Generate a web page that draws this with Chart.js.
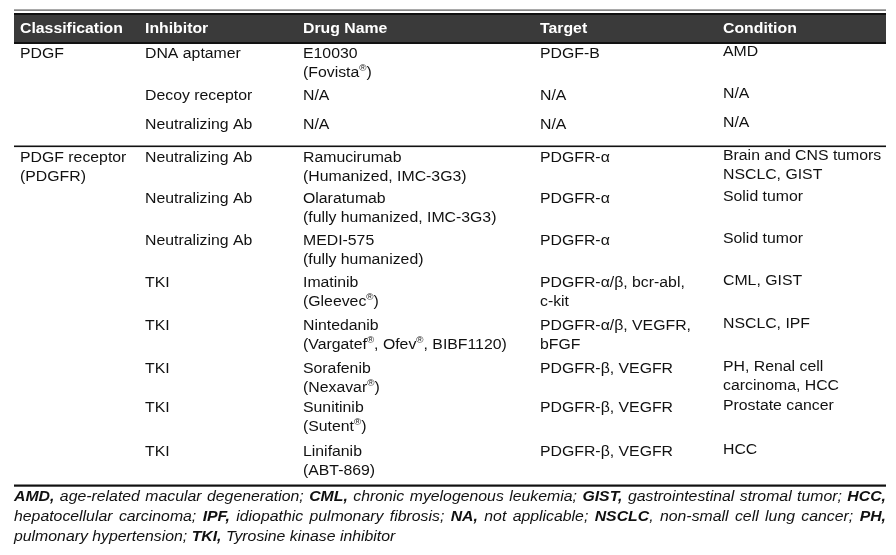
<!DOCTYPE html>
<html>
<head>
<meta charset="utf-8">
<script src="https://cdn.jsdelivr.net/npm/chart.js@4.4.0/dist/chart.umd.min.js"></script>
<style>
  html, body { margin: 0; padding: 0; background: #fff; }
  #wrap { width: 896px; height: 555px; }
</style>
</head>
<body>
<div id="wrap"><canvas id="pdgfTable"></canvas></div>
<script>
// table content
const headers = ['Classification', 'Inhibitor', 'Drug Name', 'Target', 'Condition'];
const classification = [['PDGF'], [], [], ['PDGF receptor', '(PDGFR)'], [], [], [], [], [], [], []];
const inhibitors = [['DNA aptamer'], ['Decoy receptor'], ['Neutralizing Ab'], ['Neutralizing Ab'], ['Neutralizing Ab'],
  ['Neutralizing Ab'], ['TKI'], ['TKI'], ['TKI'], ['TKI'], ['TKI']];
const drugNames = [['E10030', '(Fovista®)'], ['N/A'], ['N/A'], ['Ramucirumab', '(Humanized, IMC-3G3)'],
  ['Olaratumab', '(fully humanized, IMC-3G3)'], ['MEDI-575', '(fully humanized)'], ['Imatinib', '(Gleevec®)'],
  ['Nintedanib', '(Vargatef®, Ofev®, BIBF1120)'], ['Sorafenib', '(Nexavar®)'], ['Sunitinib', '(Sutent®)'],
  ['Linifanib', '(ABT-869)']];
const targets = [['PDGF-B'], ['N/A'], ['N/A'], ['PDGFR-α'], ['PDGFR-α'], ['PDGFR-α'], ['PDGFR-α/β, bcr-abl,', 'c-kit'],
  ['PDGFR-α/β, VEGFR,', 'bFGF'], ['PDGFR-β, VEGFR'], ['PDGFR-β, VEGFR'], ['PDGFR-β, VEGFR']];
const conditions = [['AMD'], ['N/A'], ['N/A'], ['Brain and CNS tumors', 'NSCLC, GIST'], ['Solid tumor'], ['Solid tumor'],
  ['CML, GIST'], ['NSCLC, IPF'], ['PH, Renal cell', 'carcinoma, HCC'], ['Prostate cancer'], ['HCC']];
// footnote runs: [bold, text]
const footnote = [
  [[1, 'AMD,'], [0, ' age-related macular degeneration; '], [1, 'CML,'], [0, ' chronic myelogenous leukemia; '],
   [1, 'GIST,'], [0, ' gastrointestinal stromal tumor; '], [1, 'HCC,']],
  [[0, 'hepatocellular carcinoma; '], [1, 'IPF,'], [0, ' idiopathic pulmonary fibrosis; '], [1, 'NA,'],
   [0, ' not applicable; '], [1, 'NSCLC'], [0, ', non-small cell lung cancer; '], [1, 'PH,']],
  [[0, 'pulmonary hypertension; '], [1, 'TKI,'], [0, ' Tyrosine kinase inhibitor']]
];

// layout (pixel units of the hidden scales)
const colX = [20, 145, 303, 540, 723];
const rowY = [54, 96, 125, 158, 199, 241, 283, 326, 369, 408, 452];
const lineGap = 19;
const tableLeft = 14, tableRight = 886;
const SX = 1.13; // source text is slightly stretched horizontally
const FONT = '"Liberation Sans", Arial, sans-serif';

function drawRich(ctx, str, x, y, weight, size) {
  // draws text, turning ® into a small superscript
  ctx.save();
  ctx.translate(x, y);
  ctx.scale(SX, 1);
  let cx = 0;
  str.split(/(®)/).forEach(part => {
    if (!part) return;
    if (part === '®') {
      ctx.font = `${weight} ${size * 0.62}px ${FONT}`;
      ctx.fillText(part, cx, -4);
    } else {
      ctx.font = `${weight} ${size}px ${FONT}`;
      ctx.fillText(part, cx, 0);
    }
    cx += ctx.measureText(part).width;
  });
  ctx.restore();
}

const tablePlugin = {
  id: 'tablePlugin',
  afterDraw(chart) {
    const ctx = chart.ctx;
    const xs = chart.scales.x, ys = chart.scales.y;
    const px = v => xs.getPixelForValue(v);
    const py = v => ys.getPixelForValue(v);
    const L = px(tableLeft), R = px(tableRight);

    ctx.save();
    // top rules and header band
    ctx.fillStyle = '#555';
    ctx.fillRect(L, py(9.5), R - L, 1.2);
    ctx.fillStyle = '#111';
    ctx.fillRect(L, py(13), R - L, py(44) - py(13));
    ctx.fillStyle = '#3a3a3a';
    ctx.fillRect(L, py(15), R - L, py(42) - py(15));

    ctx.textBaseline = 'middle';
    ctx.fillStyle = '#fff';
    headers.forEach((h, i) => drawRich(ctx, h, px(colX[i]), py(29), 'bold', 14));

    // body
    ctx.fillStyle = '#111';
    const cols = [classification, inhibitors, drugNames, targets, conditions];
    rowY.forEach((y0, r) => {
      cols.forEach((col, c) => {
        const dy = c === 4 ? -2 : 0;
        (col[r] || []).forEach((line, k) => {
          drawRich(ctx, line, px(colX[c]), py(y0 + k * lineGap + dy), 'normal', 14);
        });
      });
    });

    // separator and bottom rule
    ctx.fillStyle = '#111';
    ctx.fillRect(L, py(145.5), R - L, 1.6);
    ctx.fillRect(L, py(484.5), R - L, 2.2);

    // justified footnote
    const footY = [497, 517, 537];
    footnote.forEach((runs, li) => {
      const words = [];
      let cur = [];
      runs.forEach(([b, t]) => {
        t.split(/(\s+)/).forEach(tok => {
          if (tok === '') return;
          if (/^\s+$/.test(tok)) { if (cur.length) { words.push(cur); cur = []; } }
          else cur.push([b, tok]);
        });
      });
      if (cur.length) words.push(cur);
      const widthOf = w => w.reduce((s, [b, t]) => {
        ctx.font = `italic ${b ? 'bold' : 'normal'} 14px ${FONT}`;
        return s + ctx.measureText(t).width * SX;
      }, 0);
      const widths = words.map(widthOf);
      const total = widths.reduce((a, b) => a + b, 0);
      ctx.font = `italic normal 14px ${FONT}`;
      const space = ctx.measureText(' ').width * SX;
      const justify = li < footnote.length - 1;
      const gap = justify ? (R - L - total) / (words.length - 1) : space;
      let x = L;
      words.forEach((w, wi) => {
        let wx = x;
        w.forEach(([b, t]) => {
          ctx.save();
          ctx.translate(wx, py(footY[li]));
          ctx.scale(SX, 1);
          ctx.font = `italic ${b ? 'bold' : 'normal'} 14px ${FONT}`;
          ctx.fillText(t, 0, 0);
          wx += ctx.measureText(t).width * SX;
          ctx.restore();
        });
        x += widths[wi] + gap;
      });
    });
    ctx.restore();
  }
};

new Chart(document.getElementById('pdgfTable'), {
  type: 'scatter',
  data: { datasets: [] },
  options: {
    responsive: true,
    maintainAspectRatio: false,
    animation: false,
    layout: { padding: 0 },
    plugins: { legend: { display: false }, tooltip: { enabled: false } },
    scales: {
      x: { type: 'linear', min: 0, max: 896, display: false },
      y: { type: 'linear', min: 0, max: 555, reverse: true, display: false }
    }
  },
  plugins: [tablePlugin]
});
</script>
</body>
</html>
